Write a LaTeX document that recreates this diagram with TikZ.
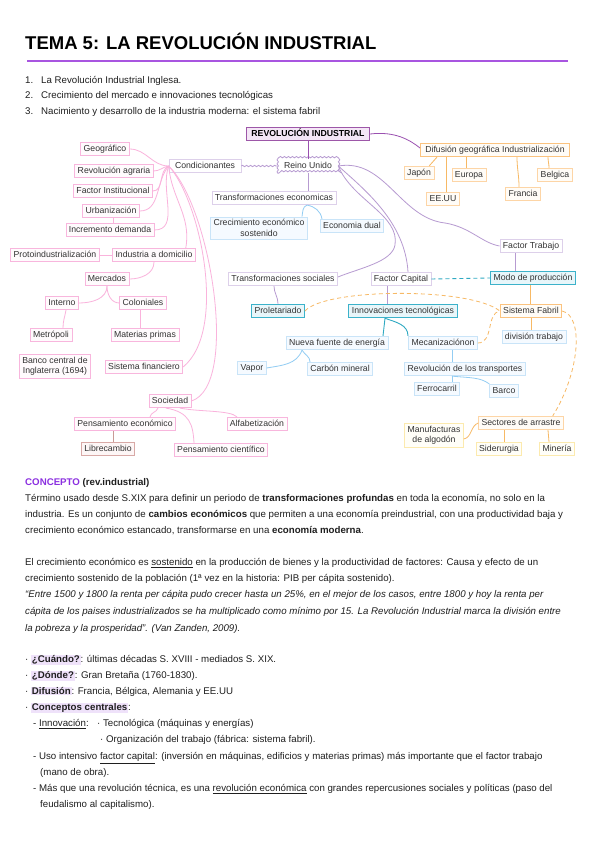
\documentclass[tikz,border=0pt]{standalone}
\usepackage{fontspec}
\setmainfont{Liberation Sans}
\usetikzlibrary{decorations.pathmorphing}

\definecolor{mmtext}{HTML}{333333}
\definecolor{pkB}{HTML}{F8B6DD}
\definecolor{pkF}{HTML}{FFFBFD}
\definecolor{pkL}{HTML}{FAB3DC}
\definecolor{liB}{HTML}{DDD0EA}
\definecolor{liL}{HTML}{B79BD1}
\definecolor{riB}{HTML}{9D57A8}
\definecolor{riF}{HTML}{F4E6F6}
\definecolor{riL}{HTML}{9A50B0}
\definecolor{blB}{HTML}{C9E4F8}
\definecolor{blF}{HTML}{F5FAFF}
\definecolor{blL}{HTML}{93CDF3}
\definecolor{tlB}{HTML}{3CB2CA}
\definecolor{tlF}{HTML}{E8F6FA}
\definecolor{tlL}{HTML}{2FA9C2}
\definecolor{orB}{HTML}{FDD5A6}
\definecolor{orS}{HTML}{FBC37F}
\definecolor{orF}{HTML}{FFFCF7}
\definecolor{orL}{HTML}{F7B965}
\definecolor{ylB}{HTML}{FCEAAE}
\definecolor{ylF}{HTML}{FFFEF8}
\definecolor{lbB}{HTML}{D8A9A6}
\definecolor{lbF}{HTML}{FDF6F6}
\definecolor{lbL}{HTML}{C99A96}
\definecolor{concepto}{HTML}{8B2FE0}
\definecolor{uline}{HTML}{A855E0}
\definecolor{hilite}{HTML}{EFE2FA}

\newcommand{\hl}[1]{{\setlength{\fboxsep}{0.8pt}\colorbox{hilite}{\textbf{#1}}}}

\tikzset{
  mmbase/.style={draw, line width=0.7pt, inner xsep=3pt, inner ysep=2.6pt,
    font=\fontsize{8.7}{10.4}\selectfont, text=mmtext, align=center},
  mm/.style={mmbase, text height=6.4pt, text depth=1.9pt},
  pkbox/.style={mm, draw=pkB, fill=pkF},
  libox/.style={mm, draw=liB, fill=white},
  blbox/.style={mm, draw=blB, fill=blF},
  tlbox/.style={mm, draw=tlB, fill=tlF, line width=1pt},
  orbox/.style={mm, draw=orB, fill=orF},
  ylbox/.style={mm, draw=ylB, fill=ylF},
  pkline/.style={draw=pkL, line width=0.8pt},
  liline/.style={draw=liL, line width=0.8pt},
  riline/.style={draw=riL, line width=0.8pt},
  blline/.style={draw=blL, line width=0.8pt},
  tlline/.style={draw=tlL, line width=0.9pt},
  orline/.style={draw=orL, line width=0.8pt},
  ordash/.style={orline, dash pattern=on 4pt off 3pt},
  bodytxt/.style={anchor=base west, inner sep=0pt, font=\fontsize{9.7}{12}\selectfont, text=black!88}
}

\begin{document}
\begin{tikzpicture}[x=1pt,y=-1pt]
\useasboundingbox (0,0) rectangle (599,848);
\fill[white] (0,0) rectangle (599,848);
%\draw[step=10,gray,very thin] (0,0) grid (599,848); %background grid

% title
\node[anchor=base west, inner sep=0pt, font=\fontsize{18.5}{22}\selectfont\bfseries] (title) at (25,50) {TEMA 5: LA REVOLUCIÓN INDUSTRIAL};
\coordinate (ulA) at (27,61);
\coordinate (ulB) at (568,61);
\draw[uline, line width=1.8pt] (ulA) -- (ulB);

\node[bodytxt] (n1) at (25,83.5) {1.};
\node[bodytxt] (l1) at (41,83.5) {La Revolución Industrial Inglesa.};
\node[bodytxt] (n2) at (25,99) {2.};
\node[bodytxt] (l2) at (41,99) {Crecimiento del mercado e innovaciones tecnológicas};
\node[bodytxt] (n3) at (25,114.5) {3.};
\node[bodytxt] (l3) at (41,114.5) {Nacimiento y desarrollo de la industria moderna: el sistema fabril};

% mind map
\node[mm, draw=riB, fill=riF, line width=1.2pt, inner xsep=5pt, font=\fontsize{8.7}{10}\selectfont\bfseries, text=black] (ri) at (308,134) {REVOLUCIÓN INDUSTRIAL};
\node[mm, draw=none, inner xsep=6pt] (ru) at (308,166) {Reino Unido};
\draw[liL, line width=0.8pt, decorate, decoration={snake, amplitude=0.7pt, segment length=4pt}] (ru.south west) rectangle (ru.north east);
\node[libox, inner xsep=6pt] (cond) at (205,166) {Condicionantes};
\node[libox] (teco) at (274,198) {Transformaciones economicas};
\node[libox] (tsoc) at (283,279) {Transformaciones sociales};
\node[libox] (fcap) at (401,279) {Factor Capital};
\node[libox] (ftra) at (531,246) {Factor Trabajo};

\node[pkbox] (geo) at (105,149) {Geográfico};
\node[pkbox] (ragr) at (114,171) {Revolución agraria};
\node[pkbox] (finst) at (113,191) {Factor Institucional};
\node[pkbox] (urb) at (111,211) {Urbanización};
\node[pkbox] (idem) at (110,230) {Incremento demanda};
\node[pkbox] (proto) at (55,255) {Protoindustrialización};
\node[pkbox] (idom) at (154,255) {Industria a domicilio};
\node[pkbox] (merc) at (107,279) {Mercados};
\node[pkbox] (interno) at (62,303) {Interno};
\node[pkbox] (colon) at (143,303) {Coloniales};
\node[pkbox] (metro) at (51,335) {Metrópoli};
\node[pkbox] (matp) at (145,335) {Materias primas};
\node[mmbase, draw=pkB, fill=pkF] (banco) at (55,366) {Banco central de\\Inglaterra (1694)};
\node[pkbox] (sfin) at (144,367) {Sistema financiero};
\node[pkbox] (soc) at (170,401) {Sociedad};
\node[pkbox] (peco) at (125,424) {Pensamiento económico};
\node[pkbox] (alfa) at (257,424) {Alfabetización};
\node[pkbox] (pcie) at (221,450) {Pensamiento científico};
\node[mm, draw=lbB, fill=lbF, line width=1pt] (libre) at (108,449) {Librecambio};

\node[mmbase, draw=blB, fill=blF] (creci) at (259,228) {Crecimiento económico\\sostenido};
\node[blbox] (edual) at (352,226) {Economia dual};
\node[blbox] (nfe) at (337,343) {Nueva fuente de energía};
\node[blbox] (meca) at (443,343) {Mecanizaciónon};
\node[blbox] (vapor) at (252,368) {Vapor};
\node[blbox] (carbon) at (340,369) {Carbón mineral};
\node[blbox] (rtra) at (465,369) {Revolución de los transportes};
\node[blbox] (ferro) at (437,389) {Ferrocarril};
\node[blbox] (barco) at (504,391) {Barco};
\node[blbox] (dtra) at (534,337) {división trabajo};

\node[tlbox] (modo) at (533,278) {Modo de producción};
\node[tlbox] (prol) at (278,311) {Proletariado};
\node[tlbox] (innov) at (403,311) {Innovaciones tecnológicas};

\node[orbox, draw=orS, inner xsep=5pt] (difu) at (495,150) {Difusión geográfica Industrialización};
\node[orbox] (japon) at (419,173) {Japón};
\node[orbox] (europa) at (469,175) {Europa};
\node[orbox] (belgica) at (555,175) {Belgica};
\node[orbox] (eeuu) at (443,199) {EE.UU};
\node[orbox] (francia) at (523,194) {Francia};
\node[orbox, draw=orS] (sfab) at (531,311) {Sistema Fabril};
\node[orbox] (sect) at (521,423) {Sectores de arrastre};
\node[mmbase, draw=ylB, fill=ylF] (manu) at (434,435) {Manufacturas\\de algodón};
\node[ylbox] (sider) at (499,449) {Siderurgia};
\node[ylbox] (mineria) at (557,449) {Minería};

% connectors
\draw[riline] (ri.south -| ru.north) -- (ru.north);
\draw[riline] (ri.east) .. controls (395,131) and (410,140) .. ([yshift=2pt]difu.west);
\draw[liline, decorate, decoration={snake, amplitude=0.7pt, segment length=4pt}] (cond.east) -- (ru.west);
\draw[liline] (ru.south) -- (ru.south |- teco.north);
\draw[liline] (ru.east) .. controls (352,200) and (400,215) .. (395,245) .. controls (392,262) and (360,268) .. ([yshift=2pt]tsoc.east);
\draw[liline] (ru.east) .. controls (365,190) and (405,222) .. ([xshift=7pt]fcap.north);
\draw[liline] (ru.east) .. controls (385,158) and (400,218) .. (445,223) .. controls (470,227) and (482,243) .. (ftra.west);
\draw[liline] ([xshift=-16pt]ftra.south) -- ([xshift=-16pt]ftra.south |- modo.north);
\draw[liline] ([xshift=-9pt]tsoc.south) to[out=270,in=90] (prol.north);
\draw[liline] ([xshift=-14pt]fcap.south) -- ([xshift=-14pt]fcap.south |- innov.north);
\draw[tlline, dash pattern=on 4pt off 3pt] (fcap.east) -- (modo.west);

\draw[pkline] (cond.west) to[out=180,in=0] (geo.east);
\draw[pkline] (cond.west) to[out=190,in=0] (ragr.east);
\draw[pkline] (cond.west) to[out=205,in=0] (finst.east);
\draw[pkline] (cond.west) to[out=230,in=0] (urb.east);
\draw[pkline] (cond.west) to[out=250,in=0] (idem.east);
\draw[pkline] (cond.west) to[out=275,in=80] ([xshift=-10pt]idom.north east);
\draw[pkline] (cond.west) .. controls (200,200) and (228,330) .. (sfin.east);
\draw[pkline] (cond.west) .. controls (210,205) and (240,385) .. (soc.east);
\draw[pkline] ([xshift=2pt]urb.south) -- ([xshift=2pt]urb.south |- idem.north);
\draw[pkline] (proto.east) -- (idom.west);
\draw[pkline] (idom.south) to[out=270,in=0] (merc.east);
\draw[pkline] (merc.south) to[out=270,in=0] (interno.east);
\draw[pkline] (merc.south) to[out=270,in=180] (colon.west);
\draw[pkline] ([xshift=4pt]interno.south) to[out=260,in=90] ([xshift=12pt]metro.north);
\draw[pkline] ([xshift=-3pt]colon.south) -- ([xshift=-3pt]colon.south |- matp.north);
\draw[pkline] ([xshift=-12pt]soc.south) to[out=250,in=80] ([xshift=25pt]peco.north);
\draw[pkline] ([xshift=-4pt]soc.south) .. controls (190,412) and (193,425) .. ([xshift=-27pt]pcie.north);
\draw[pkline] ([xshift=10pt]soc.south) .. controls (200,412) and (230,410) .. ([xshift=-20pt]alfa.north);
\draw[lbL, line width=0.9pt] ([xshift=-12pt]peco.south) -- ([xshift=-12pt]peco.south |- libre.north);

\draw[blline] ([xshift=33pt]teco.south) to[out=200,in=80] ([xshift=43pt]creci.north);
\draw[blline] ([xshift=33pt]teco.south) to[out=-10,in=100] ([xshift=-30pt]edual.north);
\draw[tlline] ([xshift=-18pt]innov.south) -- ([xshift=46pt]nfe.north);
\draw[tlline] ([xshift=-18pt]innov.south) to[out=-20,in=90] ([xshift=-35pt]meca.north);
\draw[blline] ([xshift=-35pt]nfe.south) to[out=250,in=10] (vapor.east);
\draw[blline] ([xshift=-35pt]nfe.south) to[out=-60,in=90] ([xshift=-30pt]carbon.north);
\draw[blline] ([xshift=9pt]meca.south) -- ([xshift=9pt]meca.south |- rtra.north);
\draw[blline] ([xshift=-13pt]rtra.south) -- ([xshift=15pt]ferro.north);
\draw[blline] ([xshift=-13pt]rtra.south) .. controls (470,378) and (480,377) .. (barco.north west);

\draw[orline] ([xshift=17pt]difu.south west) -- ([xshift=-5pt]japon.north east);
\draw[orline] ([xshift=3pt]eeuu.north) -- ([xshift=3pt]eeuu.north |- difu.south);
\draw[orline] ([xshift=-3pt]europa.north) -- ([xshift=-3pt]europa.north |- difu.south);
\draw[orline] ([xshift=-4pt]francia.north) to[out=90,in=270] ([xshift=97pt]difu.south west);
\draw[orline] ([xshift=-6pt]belgica.north) to[out=90,in=270] ([xshift=128pt]difu.south west);
\draw[orline] ([xshift=-3pt]modo.south) -- ([xshift=-3pt]modo.south |- sfab.north);
\draw[orline] (sfab.south) -- (sfab.south |- dtra.north);
\draw[ordash] (prol.east) .. controls (325,288) and (470,287) .. (sfab.west);
\draw[ordash] (meca.east) .. controls (494,343) and (486,313) .. (sfab.west);
\draw[ordash] (sfab.east) .. controls (584,316) and (580,372) .. ([xshift=-11pt]sect.north east);
\draw[orline] (sect.west) to[out=200,in=10] ([yshift=-4pt]manu.east);
\draw[orline] ([xshift=-17pt]sect.south) -- ([xshift=5pt]sider.north);
\draw[orline] ([xshift=27pt]sect.south) -- ([xshift=-8pt]mineria.north);

% text
\node[bodytxt, font=\fontsize{9.7}{12}\selectfont\bfseries] (concepto) at (25,485) {\textcolor{concepto}{CONCEPTO} (rev.industrial)};
\node[bodytxt] (t1) at (25,501) {Término usado desde S.XIX para definir un periodo de \textbf{transformaciones profundas} en toda la economía, no solo en la};
\node[bodytxt] (t2) at (25,517) {industria. Es un conjunto de \textbf{cambios económicos} que permiten a una economía preindustrial, con una productividad baja y};
\node[bodytxt] (t3) at (25,533.5) {crecimiento económico estancado, transformarse en una \textbf{economía moderna}.};
\node[bodytxt] (t4) at (25,565.5) {El crecimiento económico es \underline{sostenido} en la producción de bienes y la productividad de factores: Causa y efecto de un};
\node[bodytxt] (t5) at (25,581.5) {crecimiento sostenido de la población (1ª vez en la historia: PIB per cápita sostenido).};
\node[bodytxt, font=\fontsize{9.7}{12}\selectfont\itshape] (t6) at (25,597.5) {“Entre 1500 y 1800 la renta per cápita pudo crecer hasta un 25\%, en el mejor de los casos, entre 1800 y hoy la renta per};
\node[bodytxt, font=\fontsize{9.7}{12}\selectfont\itshape] (t7) at (25,614) {cápita de los paises industrializados se ha multiplicado como mínimo por 15. La Revolución Industrial marca la división entre};
\node[bodytxt, font=\fontsize{9.7}{12}\selectfont\itshape] (t8) at (25,631) {la pobreza y la prosperidad”. (Van Zanden, 2009).};

\node[bodytxt] (b1) at (25,662.5) {· \hl{¿Cuándo?}: últimas décadas S. XVIII - mediados S. XIX.};
\node[bodytxt] (b2) at (25,678.5) {· \hl{¿Dónde?}: Gran Bretaña (1760-1830).};
\node[bodytxt] (b3) at (25,694.5) {· \hl{Difusión}: Francia, Bélgica, Alemania y EE.UU};
\node[bodytxt] (b4) at (25,710.5) {· \hl{Conceptos centrales}:};
\node[bodytxt] (b5) at (33,726.5) {- \underline{Innovación}:};
\node[bodytxt] (b5a) at (97,726.5) {· Tecnológica (máquinas y energías)};
\node[bodytxt] (b6) at (100,742.5) {· Organización del trabajo (fábrica: sistema fabril).};
\node[bodytxt] (b7) at (33,759.5) {- Uso intensivo \underline{factor capital}: (inversión en máquinas, edificios y materias primas) más importante que el factor trabajo};
\node[bodytxt] (b7b) at (40,775.5) {(mano de obra).};
\node[bodytxt] (b8) at (33,791.5) {- Más que una revolución técnica, es una \underline{revolución económica} con grandes repercusiones sociales y políticas (paso del};
\node[bodytxt] (b8b) at (40,807.5) {feudalismo al capitalismo).};
\end{tikzpicture}
\end{document}
